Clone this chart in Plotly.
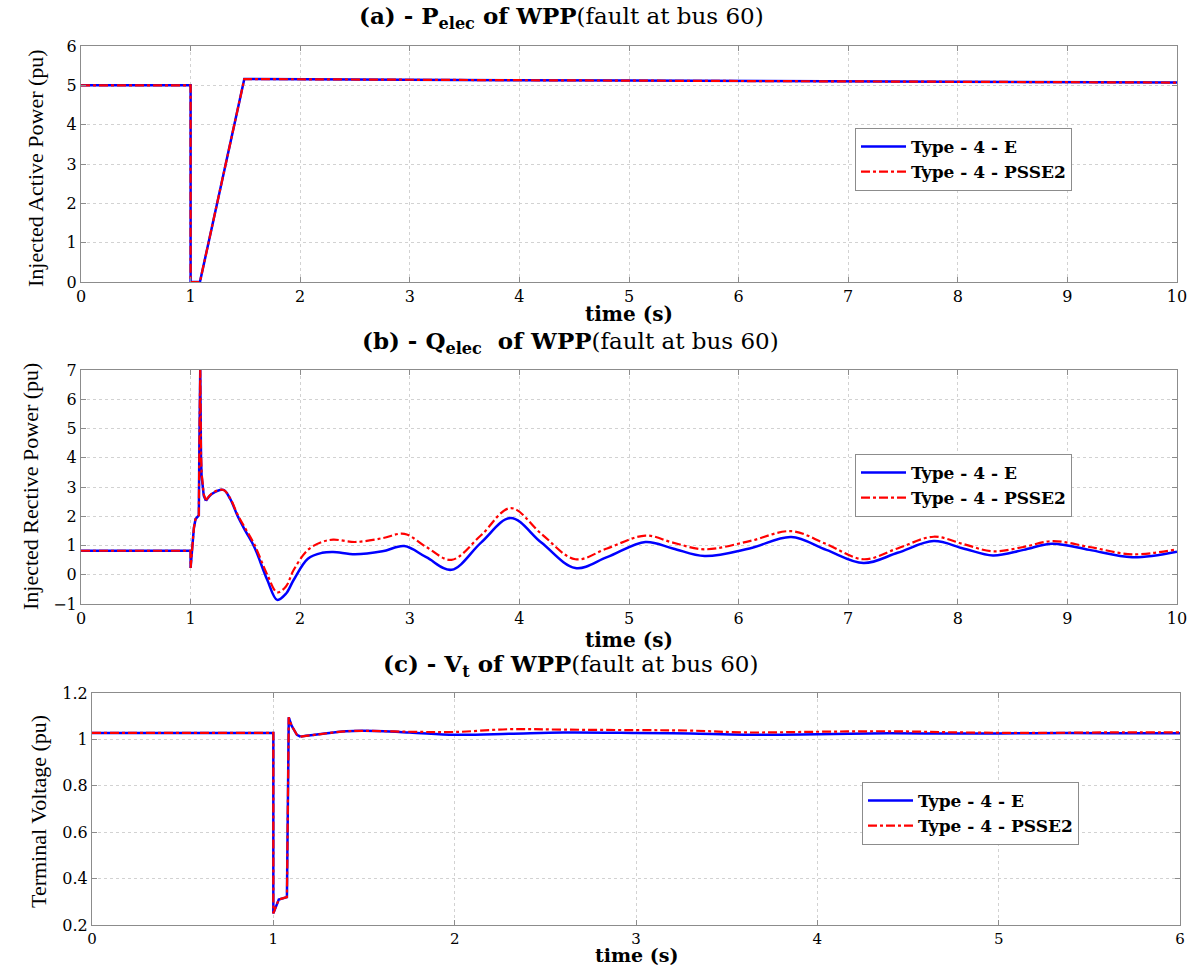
import plotly.graph_objects as go

# ---------------- data ----------------
# (a) active power
pa_t = [0, 1.0, 1.0, 1.085, 1.49, 2, 3, 4, 5, 6, 7, 8, 9, 10]
pa_e = [5.0, 5.0, 0.0, 0.0, 5.16, 5.15, 5.14, 5.13, 5.12, 5.11, 5.10, 5.09, 5.08, 5.07]
pa_p = [5.0, 5.0, 0.0, 0.0, 5.16, 5.15, 5.14, 5.13, 5.12, 5.11, 5.10, 5.09, 5.08, 5.07]

# (b) reactive power - fault part
qb_t_fault = [0, 1.0, 1.0, 1.03, 1.045, 1.075, 1.08, 1.088, 1.095, 1.10, 1.12, 1.14]
qb_e_fault = [0.82, 0.82, 0.23, 1.6, 1.9, 2.03, 4.4, 7.0, 4.0, 3.4, 2.7, 2.53]
qb_p_fault = [0.82, 0.82, 0.23, 1.6, 1.9, 2.03, 4.4, 7.0, 4.2, 3.5, 2.75, 2.55]
# (b) reactive power - oscillation part
qb_t_osc = [1.14, 1.2, 1.3, 1.36, 1.43, 1.5, 1.58, 1.7, 1.79, 1.87, 1.94, 2.07, 2.2, 2.3,
            2.5, 2.75, 2.95, 3.15, 3.38, 3.65, 3.92, 4.2, 4.51, 4.8, 5.15, 5.4, 5.69, 6.1,
            6.48, 6.8, 7.14, 7.45, 7.78, 8.05, 8.32, 8.6, 8.86, 9.2, 9.59, 10.0]
qb_e_osc = [2.53, 2.78, 2.9, 2.6, 2.0, 1.5, 0.96, -0.18, -0.86, -0.65, -0.18, 0.55, 0.75, 0.78,
            0.7, 0.8, 0.98, 0.6, 0.17, 1.1, 1.94, 1.1, 0.23, 0.6, 1.12, 0.9, 0.64, 0.9,
            1.29, 0.85, 0.40, 0.75, 1.15, 0.9, 0.66, 0.85, 1.06, 0.85, 0.60, 0.79]
qb_p_osc = [2.55, 2.8, 2.9, 2.62, 2.05, 1.58, 1.05, 0.0, -0.6, -0.4, 0.16, 0.85, 1.12, 1.2,
            1.12, 1.25, 1.40, 0.95, 0.51, 1.35, 2.28, 1.4, 0.53, 0.9, 1.34, 1.1, 0.87, 1.15,
            1.49, 1.05, 0.53, 0.9, 1.30, 1.05, 0.80, 0.95, 1.15, 0.95, 0.70, 0.87]

# (c) terminal voltage - fault part
vc_t_fault = [0, 1.0, 1.0, 1.01, 1.03, 1.075, 1.08, 1.085, 1.1, 1.13, 1.15]
vc_e_fault = [1.028, 1.028, 0.25, 0.27, 0.31, 0.32, 0.90, 1.095, 1.06, 1.02, 1.012]
vc_p_fault = [1.028, 1.028, 0.25, 0.27, 0.31, 0.32, 0.90, 1.095, 1.06, 1.02, 1.012]
# (c) terminal voltage - recovery part
vc_t_rec = [1.15, 1.25, 1.4, 1.5, 1.75, 2.0, 2.3, 2.6, 3.0, 3.3, 3.6, 4.0, 4.4, 4.8, 5.2, 5.6, 6.0]
vc_e_rec = [1.012, 1.022, 1.035, 1.037, 1.03, 1.02, 1.024, 1.03, 1.028, 1.025, 1.02, 1.022,
            1.026, 1.025, 1.027, 1.027, 1.026]
vc_p_rec = [1.012, 1.022, 1.035, 1.037, 1.033, 1.032, 1.044, 1.042, 1.04, 1.038, 1.03, 1.033,
            1.035, 1.03, 1.028, 1.03, 1.03]

names = ["Type - 4 - E", "Type - 4 - PSSE2"]
titles = ["<b>(a) - P<sub>elec</sub> of WPP</b>(fault at bus 60)",
          "<b>(b) - Q<sub>elec</sub>  of WPP</b>(fault at bus 60)",
          "<b>(c) - V<sub>t</sub> of WPP</b>(fault at bus 60)"]
ytitles = ["Injected Active Power (pu)", "Injected Rective Power (pu)", "Terminal Voltage (pu)"]

BLUE = "#0000ff"
RED = "#ff0000"
WIDE = "DejaVu Serif"
NARROW = "Liberation Serif"

fig = go.Figure()

def add_pair(t_e, y_e, t_p, y_p, xa, ya, leg, show, shape="linear"):
    fig.add_trace(go.Scatter(x=t_e, y=y_e, mode="lines", name=names[0], xaxis=xa, yaxis=ya,
                             legend=leg, showlegend=show, legendgroup=leg + "e",
                             line=dict(color=BLUE, width=2.5, shape=shape)))
    fig.add_trace(go.Scatter(x=t_p, y=y_p, mode="lines", name=names[1], xaxis=xa, yaxis=ya,
                             legend=leg, showlegend=show, legendgroup=leg + "p",
                             line=dict(color=RED, width=2.2, dash="dashdot", shape=shape)))

add_pair(pa_t, pa_e, pa_t, pa_p, "x", "y", "legend", True)
add_pair(qb_t_fault, qb_e_fault, qb_t_fault, qb_p_fault, "x2", "y2", "legend2", True)
add_pair(qb_t_osc, qb_e_osc, qb_t_osc, qb_p_osc, "x2", "y2", "legend2", False, "spline")
add_pair(vc_t_fault, vc_e_fault, vc_t_fault, vc_p_fault, "x3", "y3", "legend3", True)
add_pair(vc_t_rec, vc_e_rec, vc_t_rec, vc_p_rec, "x3", "y3", "legend3", False, "spline")

W, H = 1202, 968

def ax(domain, rng, dtick, anchor, fs=16):
    return dict(domain=domain, range=rng, dtick=dtick, anchor=anchor, automargin=False,
                showline=True, linecolor="#8c8c8c", linewidth=1, mirror="ticks",
                ticks="inside", ticklen=5, tickcolor="#8c8c8c",
                showgrid=True, gridcolor="#d2d2d2", griddash="dot", gridwidth=1,
                zeroline=False, tickfont=dict(family=WIDE, size=fs, color="black"))

xd_ab = [81 / W, 1177 / W]
xd_c = [92 / W, 1180 / W]
yd = [[1 - 282 / H, 1 - 46 / H], [1 - 604 / H, 1 - 370 / H], [1 - 925 / H, 1 - 693 / H]]

def leg(x, y):
    return dict(x=x / W, y=1 - y / H, xanchor="left", yanchor="top",
                bgcolor="white", bordercolor="#8c8c8c", borderwidth=1,
                font=dict(family=WIDE, size=17, color="black", weight="bold"),
                tracegroupgap=0, itemwidth=45)

annotations = []
for i, (cx, cy) in enumerate([(561, 18), (570, 342), (570, 665)]):
    annotations.append(dict(text=titles[i], x=cx / W, y=1 - cy / H, xref="paper", yref="paper",
                            xanchor="center", yanchor="middle", showarrow=False,
                            font=dict(family=WIDE, size=23, color="black")))
for cx, cy, fs in [(629, 314, 20), (629, 640, 20), (636, 955, 19)]:
    annotations.append(dict(text="<b>time (s)</b>", x=cx / W, y=1 - cy / H, xref="paper",
                            yref="paper", xanchor="center", yanchor="middle", showarrow=False,
                            font=dict(family=WIDE, size=fs, color="black")))
for i, (cx, cy) in enumerate([(36, 168), (30, 487), (38, 812)]):
    annotations.append(dict(text=ytitles[i], x=cx / W, y=1 - cy / H, xref="paper", yref="paper",
                            xanchor="center", yanchor="middle", showarrow=False, textangle=-90,
                            font=dict(family=NARROW, size=22, color="black")))

fig.update_layout(
    width=W, height=H, margin=dict(l=0, r=0, t=0, b=0, pad=0, autoexpand=False),
    paper_bgcolor="white", plot_bgcolor="white",
    xaxis=ax(xd_ab, [0, 10], 1, "y"), yaxis=ax(yd[0], [0, 6], 1, "x"),
    xaxis2=ax(xd_ab, [0, 10], 1, "y2"), yaxis2=ax(yd[1], [-1, 7], 1, "x2"),
    xaxis3=ax(xd_c, [0, 6], 1, "y3", 15), yaxis3=ax(yd[2], [0.2, 1.2], 0.2, "x3"),
    legend=leg(855, 128), legend2=leg(855, 454), legend3=leg(862, 782),
    annotations=annotations,
)

fig.write_html("out.html")
